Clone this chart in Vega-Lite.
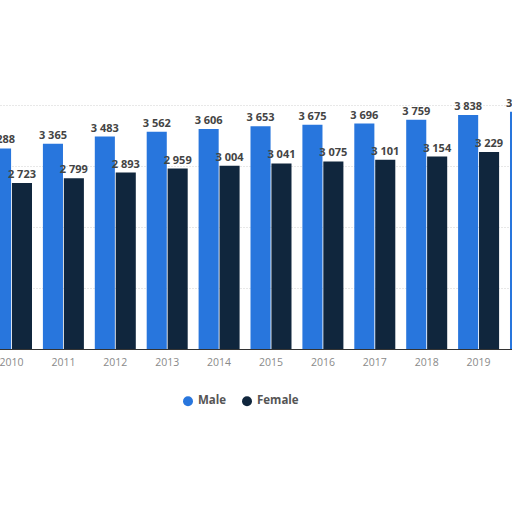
{
  "$schema": "https://vega.github.io/schema/vega-lite/v6.json",
  "autosize": {"type": "none"},
  "width": 512,
  "height": 244,
  "padding": {"left": 0, "top": 105, "right": 0, "bottom": 163},
  "background": "white",
  "data": {
    "values": [
      {"year": "2010", "gender": "Male", "value": 3288},
      {"year": "2010", "gender": "Female", "value": 2723},
      {"year": "2011", "gender": "Male", "value": 3365},
      {"year": "2011", "gender": "Female", "value": 2799},
      {"year": "2012", "gender": "Male", "value": 3483},
      {"year": "2012", "gender": "Female", "value": 2893},
      {"year": "2013", "gender": "Male", "value": 3562},
      {"year": "2013", "gender": "Female", "value": 2959},
      {"year": "2014", "gender": "Male", "value": 3606},
      {"year": "2014", "gender": "Female", "value": 3004},
      {"year": "2015", "gender": "Male", "value": 3653},
      {"year": "2015", "gender": "Female", "value": 3041},
      {"year": "2016", "gender": "Male", "value": 3675},
      {"year": "2016", "gender": "Female", "value": 3075},
      {"year": "2017", "gender": "Male", "value": 3696},
      {"year": "2017", "gender": "Female", "value": 3101},
      {"year": "2018", "gender": "Male", "value": 3759},
      {"year": "2018", "gender": "Female", "value": 3154},
      {"year": "2019", "gender": "Male", "value": 3838},
      {"year": "2019", "gender": "Female", "value": 3229},
      {"year": "2020", "gender": "Male", "value": 3890},
      {"year": "2020", "gender": "Female", "value": 3280}
    ]
  },
  "encoding": {
    "x": {
      "field": "year",
      "type": "nominal",
      "scale": {"range": [-9, 551], "paddingInner": 0.21, "paddingOuter": 0},
      "axis": {
        "title": null,
        "labelColor": "#8a8a8a",
        "labelFont": "Open Sans",
        "labelFontSize": 10.5,
        "labelAngle": 0,
        "labelPadding": 8,
        "ticks": false,
        "domainColor": "#333333",
        "domainWidth": 1
      }
    },
    "xOffset": {
      "field": "gender",
      "type": "nominal",
      "sort": ["Male", "Female"],
      "scale": {"paddingInner": 0.04}
    },
    "y": {
      "field": "value",
      "type": "quantitative",
      "scale": {"domain": [0, 4000]},
      "axis": {
        "title": null,
        "labels": false,
        "ticks": false,
        "domain": false,
        "tickCount": 4,
        "gridColor": "#d0d0d0",
        "gridDash": [1, 2]
      }
    }
  },
  "layer": [
    {
      "mark": {"type": "bar"},
      "encoding": {
        "color": {
          "field": "gender",
          "type": "nominal",
          "sort": ["Male", "Female"],
          "scale": {"domain": ["Male", "Female"], "range": ["#2876dd", "#10263d"]},
          "legend": {
            "title": null,
            "orient": "none",
            "direction": "horizontal",
            "legendX": 182,
            "legendY": 290,
            "symbolType": "circle",
            "symbolSize": 100,
            "labelFont": "Open Sans",
            "labelFontSize": 11.5,
            "labelFontWeight": "bold",
            "labelColor": "#555555",
            "columnPadding": 14
          }
        }
      }
    },
    {
      "mark": {
        "type": "text",
        "dy": -8,
        "font": "Open Sans",
        "fontSize": 11,
        "fontWeight": "bold",
        "color": "#444444"
      },
      "encoding": {
        "text": {"field": "value", "type": "quantitative", "format": ",d"}
      }
    }
  ],
  "config": {
    "view": {"stroke": null},
    "locale": {"number": {"decimal": ".", "thousands": " ", "grouping": [3], "currency": ["", ""]}}
  }
}
